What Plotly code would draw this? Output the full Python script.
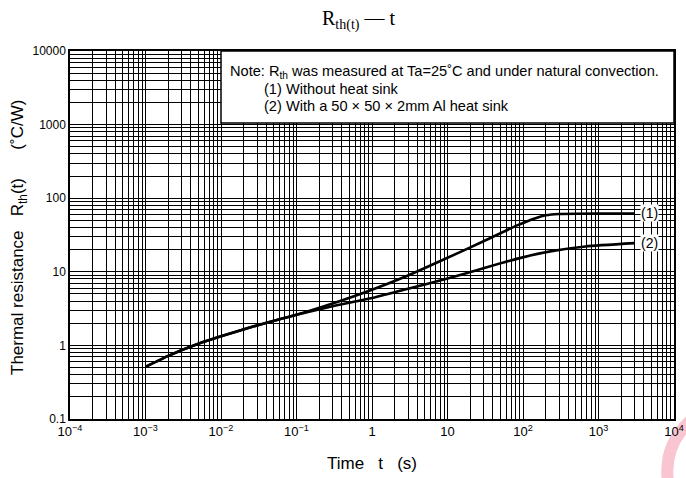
import plotly.graph_objects as go
import numpy as np

# Data
t1 = [0.001, 0.002, 0.005, 0.01, 0.03, 0.1, 0.3, 1, 3, 10, 30, 85, 150, 200, 300, 1000, 3000]
r1 = [0.51, 0.72, 1.05, 1.33, 1.87, 2.6, 3.7, 5.7, 8.9, 15.5, 26, 43, 54, 58.5, 61, 62, 62]
t2 = [0.001, 0.002, 0.005, 0.01, 0.03, 0.1, 0.3, 1, 3, 10, 30, 85, 240, 674, 3000]
r2 = [0.51, 0.72, 1.05, 1.33, 1.87, 2.6, 3.4, 4.4, 5.9, 8.1, 11.2, 15.1, 19.1, 22.1, 24.5]
labels = ["(1)", "(2)"]

x_major = [1e-4, 1e-3, 1e-2, 1e-1, 1, 10, 1e2, 1e3, 1e4]
x_text = ["10<sup>\u22124</sup>", "10<sup>\u22123</sup>", "10<sup>\u22122</sup>", "10<sup>\u22121</sup>",
          "1", "10", "10<sup>2</sup>", "10<sup>3</sup>", "10<sup>4</sup>"]
y_major = [0.1, 1, 10, 100, 1000, 10000]
y_text = ["0.1", "1", "10", "100", "1000", "10000"]

x_minor = [m * 10.0 ** e for e in range(-4, 4) for m in range(2, 10)]
y_minor = [m * 10.0 ** e for e in range(-1, 4) for m in range(2, 10)]

FONT = "Liberation Sans, Arial"
NB = "\u00a0"
fig = go.Figure()
for t, r in [(t1, r1), (t2, r2)]:
    fig.add_trace(go.Scatter(x=t, y=r, mode="lines",
                             line=dict(color="black", width=2.6, shape="spline", smoothing=0.5),
                             showlegend=False, hoverinfo="skip"))

for t, r, lab in [(t1, r1, labels[0]), (t2, r2, labels[1])]:
    fig.add_annotation(x=np.log10(t[-1]), y=np.log10(r[-1]), xref="x", yref="y", text=lab,
                       showarrow=False, xanchor="left", xshift=5, bgcolor="white",
                       font=dict(family=FONT, size=14, color="black"), borderpad=0)

grid_col = "black"
fig.update_xaxes(type="log", range=[-4, 4], tickvals=x_major, ticktext=x_text, ticks="",
                 showgrid=True, gridcolor=grid_col, gridwidth=1,
                 minor=dict(tickvals=x_minor, showgrid=True, gridcolor=grid_col, gridwidth=1, ticks=""),
                 showline=True, mirror=True, linecolor="black", linewidth=1.5,
                 tickfont=dict(family=FONT, size=13, color="black"), zeroline=False)
fig.update_yaxes(type="log", range=[-1, 4], tickvals=y_major, ticktext=y_text, ticks="",
                 showgrid=True, gridcolor=grid_col, gridwidth=1,
                 minor=dict(tickvals=y_minor, showgrid=True, gridcolor=grid_col, gridwidth=1, ticks=""),
                 showline=True, mirror=True, linecolor="black", linewidth=1.5,
                 tickfont=dict(family=FONT, size=12, color="black"), zeroline=False)

# Axis titles
fig.add_annotation(xref="paper", yref="paper", x=(372 - 70) / 604, y=(419 - 463) / 368,
                   xanchor="center", yanchor="middle", showarrow=False,
                   text="Time" + NB * 3 + "t" + NB * 3 + "(s)",
                   font=dict(family=FONT, size=17, color="black"))
fig.add_annotation(xref="paper", yref="paper", x=(19 - 70) / 604, y=(419 - 238) / 368,
                   xanchor="center", yanchor="middle", showarrow=False, textangle=-90,
                   text="Thermal resistance" + NB * 3 + "R<sub>th</sub>(t)" + NB * 6 + "(\u02daC/W)",
                   font=dict(family=FONT, size=17, color="black"))

# Note box
fig.add_shape(type="rect", xref="paper", yref="paper", x0=(221 - 70) / 604, x1=1.0, y0=(419 - 123) / 368, y1=1.0,
              fillcolor="white", line=dict(color="black", width=1.5), layer="above")
note_font = dict(family=FONT, size=14.6, color="black")
fig.add_annotation(xref="paper", yref="paper", x=(228 - 70) / 604, y=(419 - 72) / 368, xanchor="left", yanchor="middle",
                   text="Note: R<sub>th</sub> was measured at Ta=25\u02daC and under natural convection.",
                   showarrow=False, font=note_font)
fig.add_annotation(xref="paper", yref="paper", x=(262 - 70) / 604, y=(419 - 89) / 368, xanchor="left", yanchor="middle",
                   text="(1) Without heat sink", showarrow=False, font=note_font)
fig.add_annotation(xref="paper", yref="paper", x=(262 - 70) / 604, y=(419 - 106) / 368, xanchor="left", yanchor="middle",
                   text="(2) With a 50" + NB + "\u00d7" + NB + "50" + NB + "\u00d7" + NB + "2mm Al heat sink",
                   showarrow=False, font=note_font)

# Title
fig.add_annotation(xref="paper", yref="paper", x=(358 - 70) / 604, y=(419 - 20) / 368, xanchor="center", yanchor="middle",
                   text="R<sub>th(t)</sub> \u2014 t", showarrow=False,
                   font=dict(family="Liberation Serif, Times New Roman", size=20, color="black"))

# pink watermark arc (decorative)
fig.add_shape(type="path", xref="paper", yref="paper",
              path="M 1.03,0.0 Q 0.982,-0.07 0.99,-0.17",
              line=dict(color="#f9c5d1", width=12), layer="below")

fig.update_layout(width=686, height=478, margin=dict(l=70, r=12, t=51, b=59, autoexpand=False),
                  plot_bgcolor="white", paper_bgcolor="white")
fig.write_html("out.html", config={"displayModeBar": False},
               post_script="document.body.style.margin='0';document.body.style.padding='0';")
